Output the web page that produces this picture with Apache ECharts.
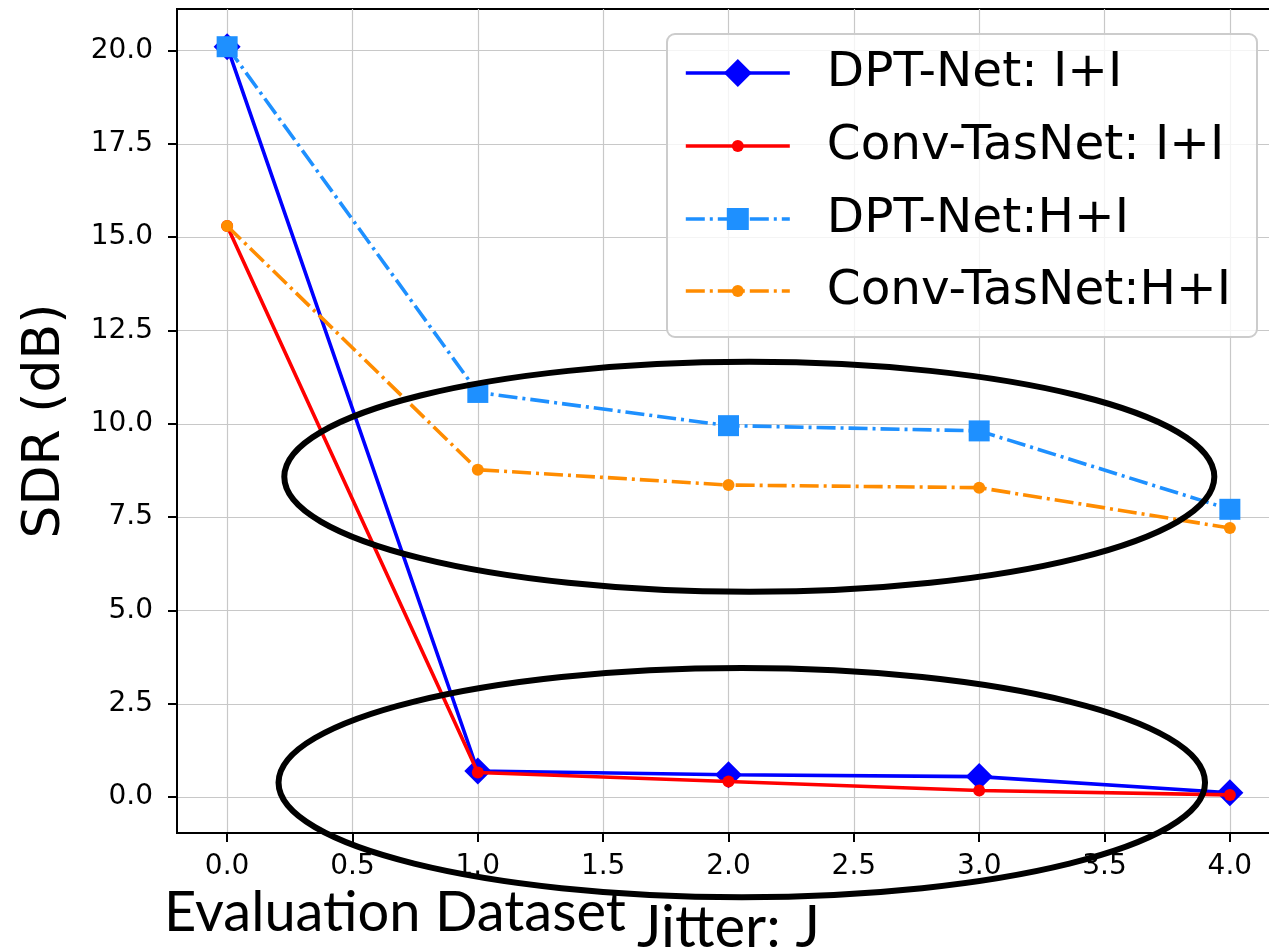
<!DOCTYPE html>
<html>
<head>
<meta charset="utf-8">
<script src="https://cdn.jsdelivr.net/npm/echarts@6/dist/echarts.min.js"></script>
<style>
html,body{margin:0;padding:0;background:#fff;}
#chart{width:1269px;height:948px;}
</style>
</head>
<body>
<div id="chart"></div>
<script>
// ---- data ----
const jitter = [0, 1, 2, 3, 4];
const dptII = [20.1, 0.70, 0.60, 0.55, 0.12];
const convII = [15.3, 0.66, 0.42, 0.18, 0.06];
const dptHI = [20.1, 10.84, 9.95, 9.81, 7.71];
const convHI = [15.3, 8.77, 8.36, 8.29, 7.21];
const seriesNames = ['DPT-Net: I+I', 'Conv-TasNet: I+I', 'DPT-Net:H+I', 'Conv-TasNet:H+I'];
const xTicks = [0, 0.5, 1, 1.5, 2, 2.5, 3, 3.5, 4];
const yTicks = [0, 2.5, 5, 7.5, 10, 12.5, 15, 17.5, 20];
// annotation ellipses in data units: [cx, cy, rx, ry]
const ellipseTop = [2.083, 8.58, 1.855, 3.08];
const ellipseBottom = [2.053, 0.39, 1.848, 3.07];

const pairs = arr => jitter.map((x, i) => [x, arr[i]]);
const dashDot = [19, 5, 3, 5];
const lineW = 3.6;

const chart = echarts.init(document.getElementById('chart'), null, {renderer: 'canvas'});
const tickFont = {fontFamily: 'DejaVu Sans', fontSize: 28, color: '#000'};

function legendFor(idx, itemH) {
  const rowCenters = [73, 146, 219, 291];
  return {
    show: true,
    data: [seriesNames[idx]],
    left: 684,
    top: rowCenters[idx] - 25,
    padding: 0,
    itemWidth: 104,
    itemHeight: itemH,
    selectedMode: false,
    z: 6,
    lineStyle: {width: lineW},
    textStyle: {fontFamily: 'DejaVu Sans', fontSize: 48.5, color: '#000', lineHeight: 50, padding: [0, 0, 0, 32]}
  };
}

const option = {
  animation: false,
  backgroundColor: '#fff',
  grid: {
    left: 177, top: 9, width: 1103, height: 824,
    containLabel: false, outerBoundsMode: 'none',
    show: true, borderColor: '#000', borderWidth: 2, backgroundColor: 'transparent'
  },
  xAxis: {
    type: 'value', min: -0.2, max: 4.2,
    name: 'Jitter: J', nameLocation: 'middle', nameGap: 66,
    nameTextStyle: {fontFamily: 'Lato', fontSize: 58, color: '#000'},
    axisLine: {show: true, onZero: false, lineStyle: {color: '#000', width: 2}},
    axisTick: {show: true, length: 9, customValues: xTicks, lineStyle: {color: '#000', width: 2}},
    axisLabel: {customValues: xTicks, margin: 20, formatter: v => v.toFixed(1), ...tickFont},
    splitLine: {show: true, lineStyle: {color: '#c8c8c8', width: 1.2}}
  },
  yAxis: {
    type: 'value', min: -0.96, max: 21.11,
    name: 'SDR (dB)', nameLocation: 'middle', nameGap: 106,
    nameTextStyle: {fontFamily: 'DejaVu Sans', fontSize: 52, color: '#000'},
    axisLine: {show: true, onZero: false, lineStyle: {color: '#000', width: 2}},
    axisTick: {show: true, length: 9, customValues: yTicks, lineStyle: {color: '#000', width: 2}},
    axisLabel: {customValues: yTicks, margin: 24, formatter: v => v.toFixed(1), ...tickFont},
    splitLine: {show: true, lineStyle: {color: '#c8c8c8', width: 1.2}}
  },
  legend: [legendFor(0, 35), legendFor(1, 15), legendFor(2, 27.5), legendFor(3, 15)],
  series: [
    {name: seriesNames[0], type: 'line', data: pairs(dptII), symbol: 'diamond', symbolSize: 27,
     lineStyle: {color: '#0000ff', width: lineW}, itemStyle: {color: '#0000ff', borderWidth: 0}, z: 2},
    {name: seriesNames[1], type: 'line', data: pairs(convII), symbol: 'circle', symbolSize: 12,
     lineStyle: {color: '#ff0000', width: lineW}, itemStyle: {color: '#ff0000', borderWidth: 0}, z: 3},
    {name: seriesNames[2], type: 'line', data: pairs(dptHI), symbol: 'rect', symbolSize: 21,
     lineStyle: {color: '#1e90ff', width: lineW, type: dashDot}, itemStyle: {color: '#1e90ff', borderWidth: 0}, z: 4},
    {name: seriesNames[3], type: 'line', data: pairs(convHI), symbol: 'circle', symbolSize: 12,
     lineStyle: {color: '#ff8c00', width: lineW, type: dashDot}, itemStyle: {color: '#ff8c00', borderWidth: 0}, z: 5}
  ],
  graphic: [
    {id: 'legendFrame', type: 'rect', z: 5, shape: {x: 667, y: 34, width: 590, height: 303, r: 8},
     style: {fill: 'rgba(255,255,255,0.8)', stroke: '#cccccc', lineWidth: 2}},
    {id: 'evalText', type: 'text', z: 10, x: 164, y: 913,
     style: {text: 'Evaluation Dataset', fontFamily: 'Lato', fontSize: 56, fill: '#000', verticalAlign: 'middle', align: 'left'}}
  ]
};
chart.setOption(option);

function ellipseGraphic(id, e) {
  const c = chart.convertToPixel({gridIndex: 0}, [e[0], e[1]]);
  const r = chart.convertToPixel({gridIndex: 0}, [e[0] + e[2], e[1] + e[3]]);
  return {id: id, type: 'ellipse', z: 9, silent: true,
    shape: {cx: c[0], cy: c[1], rx: Math.abs(r[0] - c[0]), ry: Math.abs(r[1] - c[1])},
    style: {fill: 'none', stroke: '#000', lineWidth: 6}};
}
chart.setOption({graphic: [ellipseGraphic('ellTop', ellipseTop), ellipseGraphic('ellBottom', ellipseBottom)]});
</script>
</body>
</html>
